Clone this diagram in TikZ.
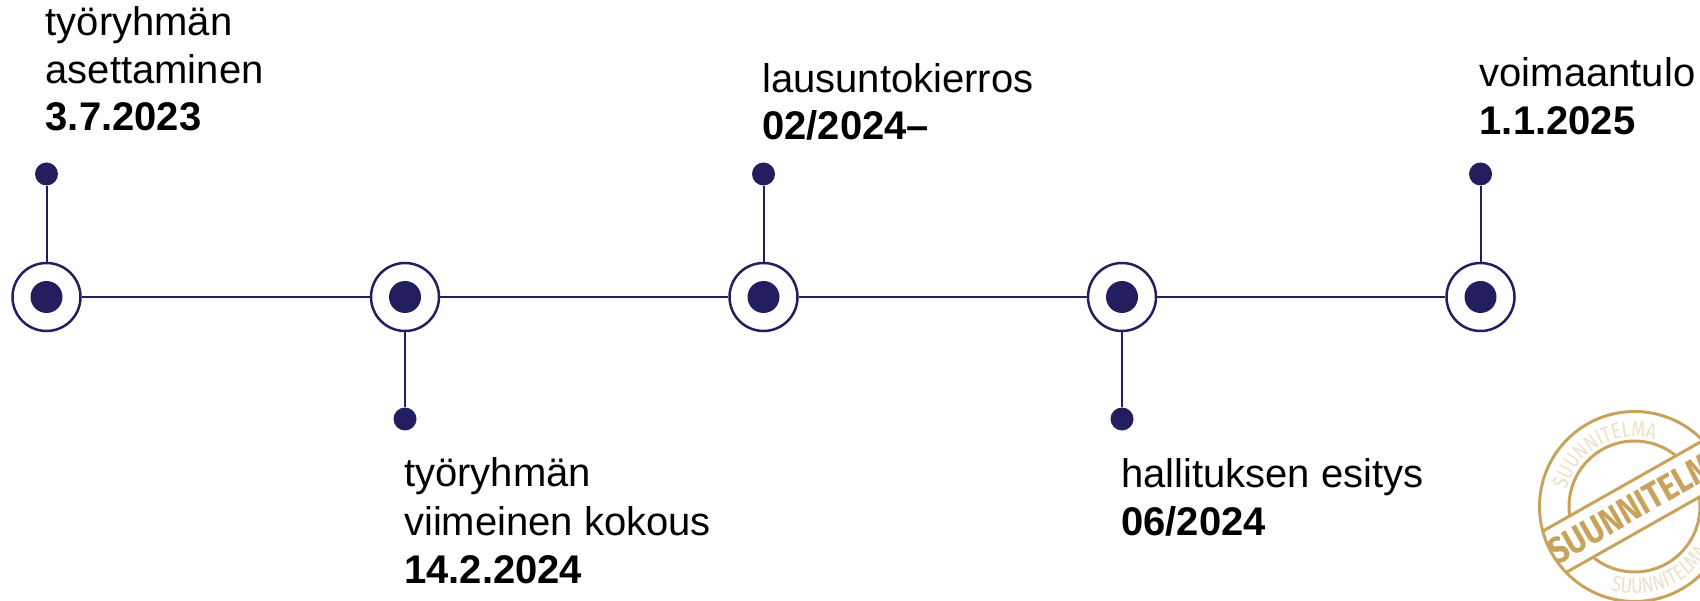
\documentclass[tikz,border=0pt]{standalone}
\usepackage{fontspec}
\setmainfont{Liberation Sans}
\newfontfamily\ringfont[FakeStretch=0.8]{Fira Sans}
\newfontfamily\bandfont[FakeStretch=0.85]{Fira Sans}
\usetikzlibrary{decorations.text}
\definecolor{navy}{HTML}{231F5E}
\definecolor{stampgold}{HTML}{C9A35C}
\definecolor{stamptan}{HTML}{EEDFC6}
\begin{document}
\begin{tikzpicture}[x=1pt,y=1pt,
  lbl/.style={anchor=base west, inner sep=0pt, font=\fontsize{40}{48}\selectfont},
  datelbl/.style={anchor=base west, inner sep=0pt, font=\fontsize{40}{48}\selectfont\bfseries},
  milestone/.style={circle, draw=navy, line width=2.5pt, fill=white, minimum size=68pt, inner sep=0pt},
  core/.style={circle, fill=navy, minimum size=32pt, inner sep=0pt},
  pin/.style={circle, fill=navy, minimum size=23pt, inner sep=0pt},
  link/.style={draw=navy, line width=2pt},
  stampline/.style={draw=stampgold, line width=3pt},
]
\clip (0,0) rectangle (1700,-601);

% milestones
\node[milestone] (m1) at (46.5,-297) {};
\node[milestone] (m2) at (405,-297) {};
\node[milestone] (m3) at (763.5,-297) {};
\node[milestone] (m4) at (1122,-297) {};
\node[milestone] (m5) at (1480.5,-297) {};
\node[core] (c1) at (m1) {};
\node[core] (c2) at (m2) {};
\node[core] (c3) at (m3) {};
\node[core] (c4) at (m4) {};
\node[core] (c5) at (m5) {};
\draw[link] (m1) -- (m2);
\draw[link] (m2) -- (m3);
\draw[link] (m3) -- (m4);
\draw[link] (m4) -- (m5);

% pins
\node[pin] (p1) at (46.5,-174) {};
\node[pin] (p2) at (405,-419) {};
\node[pin] (p3) at (763.5,-174) {};
\node[pin] (p4) at (1122,-419) {};
\node[pin] (p5) at (1480.5,-174) {};
\draw[link] (p1) -- (m1);
\draw[link] (p2) -- (m2);
\draw[link] (p3) -- (m3);
\draw[link] (p4) -- (m4);
\draw[link] (p5) -- (m5);

% labels
\node[lbl] (t1a) at (45.5,-36) {työryhmän};
\node[lbl] (t1b) at (45.5,-83.5) {asettaminen};
\node[datelbl] (t1c) at (45.5,-131) {3.7.2023};
\node[lbl] (t2a) at (404,-486) {työryhmän};
\node[lbl] (t2b) at (404,-535) {viimeinen kokous};
\node[datelbl] (t2c) at (404,-583) {14.2.2024};
\node[lbl] (t3a) at (762,-92.7) {lausuntokierros};
\node[datelbl] (t3b) at (762,-140) {02/2024–};
\node[lbl] (t4a) at (1121,-487) {hallituksen esitys};
\node[datelbl] (t4b) at (1121,-535) {06/2024};
\node[lbl] (t5a) at (1479.5,-86.7) {voimaantulo};
\node[datelbl] (t5b) at (1479.5,-135) {1.1.2025};

% stamp
\coordinate (sc) at (1634.5,-506.5);
\draw[stampline] (sc) circle[radius=95];
\begin{scope}[shift={(sc)}, rotate=29.5]
  \draw[stampline] (-92.5,23.7) -- (92.5,23.7);
  \draw[stampline] (-92.5,-23.7) -- (92.5,-23.7);
  \draw[stampline] (21.2:65.5) arc[start angle=21.2, end angle=158.8, radius=65.5];
  \draw[stampline] (201.2:65.5) arc[start angle=201.2, end angle=338.8, radius=65.5];
\end{scope}
\node[rotate=29.5, text=stampgold, inner sep=0pt, font=\bandfont\bfseries\fontsize{37}{37}\selectfont] (band) at ([shift={(29.5:5)}]sc) {SUUNNITELMA};
\path[decorate, decoration={text along path, text color=stamptan,
  text={|\ringfont\fontsize{22}{22}\selectfont|SUUNNITELMA}}]
  ([shift={(166:70)}]sc) arc[start angle=166, end angle=75, radius=70];
\path[decorate, decoration={text along path, text color=stamptan,
  text={|\ringfont\fontsize{22}{22}\selectfont|SUUNNITELMA}}]
  ([shift={(254:87)}]sc) arc[start angle=254, end angle=375, radius=87];
\end{tikzpicture}
\end{document}
